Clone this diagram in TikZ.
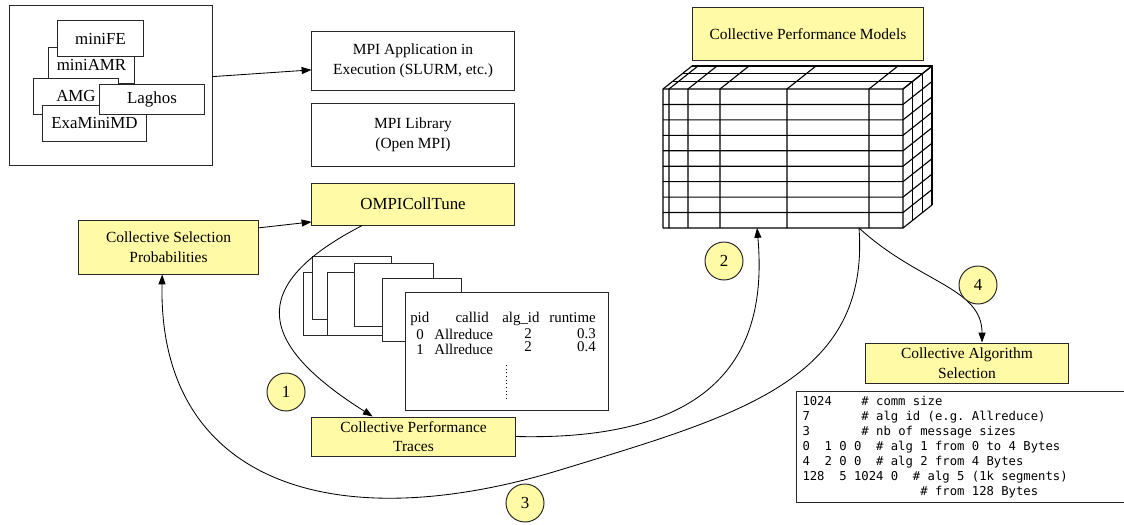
\documentclass[tikz,border=0pt]{standalone}
\usepackage{fontspec}
\setmainfont{Liberation Serif}
\setmonofont{DejaVu Sans Mono}
\usepackage{tikz}
\usetikzlibrary{arrows.meta, positioning, calc}
\definecolor{noteyellow}{RGB}{255, 250, 165}
\definecolor{edgegray}{RGB}{40, 40, 40}
\newcommand{\codespacing}{\spaceskip=\fontcharwd\font`0\relax\xspaceskip=\spaceskip}

\begin{document}
\begin{tikzpicture}[x=0.025cm, y=-0.025cm,
  plain/.style={draw=edgegray, line width=0.7pt, fill=white, align=center, inner sep=2pt, font=\fontsize{11}{14}\selectfont},
  yellowbox/.style={plain, fill=noteyellow},
  appbox/.style={plain, minimum height=0.9cm, font=\fontsize{12}{14}\selectfont},
  stepnum/.style={draw=edgegray, line width=0.7pt, fill=noteyellow, circle, minimum size=0.95cm, inner sep=0pt, font=\fontsize{12}{14}\selectfont},
  flow/.style={line width=0.6pt, -{Triangle[length=7pt, width=5pt]}},
  cell/.style={inner sep=0pt, font=\fontsize{10.6}{12}\selectfont},
  grid/.style={line width=0.8pt, black}]

  \useasboundingbox (0,0) rectangle (1124,525);

  % Mini-apps box
  \node[plain, minimum width=5.05cm, minimum height=4cm] (apps) at (111,85.5) {};
  \node[appbox, minimum width=2.125cm] (miniamr) at (91.5,65) {miniAMR};
  \node[appbox, minimum width=2.125cm] (minife) at (100.5,38.5) {miniFE};
  \node[appbox, minimum width=2.1cm] (amg) at (76,96) {AMG};
  \node[appbox, minimum width=2.575cm] (examinimd) at (94.5,123) {ExaMiniMD};
  \node[appbox, minimum width=2.6cm, minimum height=0.75cm] (laghos) at (152,99) {Laghos};

  % Software stack
  \node[plain, minimum width=5.05cm, minimum height=1.45cm] (app) at (413,61) {MPI Application in\\Execution (SLURM, etc.)};
  \node[plain, minimum width=5.05cm, minimum height=1.575cm, below=0.3cm of app] (lib) {MPI Library\\(Open MPI)};
  \node[yellowbox, minimum width=5.05cm, minimum height=1.05cm, font=\fontsize{12}{14}\selectfont, below=0.4cm of lib] (tune) {OMPICollTune};
  \node[yellowbox, minimum width=4.475cm, minimum height=1.35cm] (probs) at (168.5,247) {Collective Selection\\Probabilities};

  \draw[flow] (apps.5) -- (app.185);
  \draw[flow] (probs.12) -- (tune.190);

  % Stack of trace files
  \foreach \lx/\ty in {303/272, 312/256, 327/272, 354/263, 382/278}
    \draw[plain] (\lx,\ty) rectangle ++(79,63);
  \node[plain, minimum width=5.05cm, minimum height=2.925cm] (tbl) at (507,351.5) {};
  \node[cell, anchor=base west] (hpid) at (410,322) {pid};
  \node[cell, anchor=base east] (hcall) at (489,322) {callid};
  \node[cell, anchor=base west] (halg) at (502,322) {alg\_id};
  \node[cell, anchor=base east] (hrun) at (596,322) {runtime};
  \node[cell, anchor=base] (pidA) at (420,339) {0};
  \node[cell, anchor=base west] (callA) at (434,339) {Allreduce};
  \node[cell, anchor=base] (algA) at (528,338) {2};
  \node[cell, anchor=base east] (runA) at (596,338) {0.3};
  \node[cell, anchor=base] (pidB) at (420,354) {1};
  \node[cell, anchor=base west] (callB) at (434,354) {Allreduce};
  \node[cell, anchor=base] (algB) at (528,351) {2};
  \node[cell, anchor=base east] (runB) at (596,351) {0.4};
  \draw[dotted, line width=0.6pt] (506,365) -- (506,400);

  \node[yellowbox, minimum width=5.075cm, minimum height=0.975cm] (traces) at (413.5,436.5) {Collective Performance\\Traces};

  % Performance models cube
  \node[yellowbox, minimum width=5.75cm, minimum height=1.3cm] (models) at (808,34) {Collective Performance Models};
  \foreach \cx in {663,669,688,720,787,869,903}
    \draw[grid] (\cx,89) -- (\cx,228) (\cx,89) -- ++(29,-23);
  \foreach \r in {0,...,9}
    \draw[grid] (663,89+15.444*\r) -- (903,89+15.444*\r) -- ++(29,-23);
  \foreach \k in {1,2,3}
    \draw[grid] (663+29*\k/3,89-23*\k/3) -- ++(240,0) -- ++(0,139);
  \coordinate (cubein) at (757,228);
  \coordinate (cubeout) at (859,228);

  % Algorithm selection and rules file
  \node[yellowbox, minimum width=5.05cm, minimum height=1cm] (sel) at (967,363) {Collective Algorithm\\Selection};
  \node[plain, anchor=north west, align=left, text width=8cm, inner xsep=0.15cm, minimum height=2.775cm,
    font=\ttfamily\fontsize{8.7}{10.6}\selectfont] (rules) at (796,391) {\codespacing
    1024~~~~\#~comm~size\\
    7~~~~~~~\#~alg~id~(e.g.~Allreduce)\\
    3~~~~~~~\#~nb~of~message~sizes\\
    0~~1~0~0~~\#~alg~1~from~0~to~4~Bytes\\
    4~~2~0~0~~\#~alg~2~from~4~Bytes\\
    128~~5~1024~0~~\#~alg~5~(1k~segments)\\
    ~~~~~~~~~~~~~~~~\#~from~128~Bytes};

  % Workflow steps
  \coordinate (bend) at (560,470);
  \draw[flow] ($(tune.south west)!.25!(tune.south east)$) .. controls +(-118,61) and +(-114,-72) .. ($(traces.north west)!.3!(traces.north east)$);
  \draw[flow] (traces.east) .. controls +(205,5) and +(11,122) .. (cubein);
  \draw[flow] (cubeout) .. controls +(11,152) and +(180,-55) .. (bend)
    .. controls +(-230,70) and +(-4,206) .. ($(probs.south west)!.465!(probs.south east)$);
  \draw[flow] (cubeout) .. controls +(60,55) and +(0,-55) .. ($(sel.north west)!.574!(sel.north east)$);

  \node[stepnum] (one) at (286,392) {1};
  \node[stepnum] (two) at (724,261) {2};
  \node[stepnum] (three) at (525,503) {3};
  \node[stepnum] (four) at (978,285) {4};
\end{tikzpicture}
\end{document}
